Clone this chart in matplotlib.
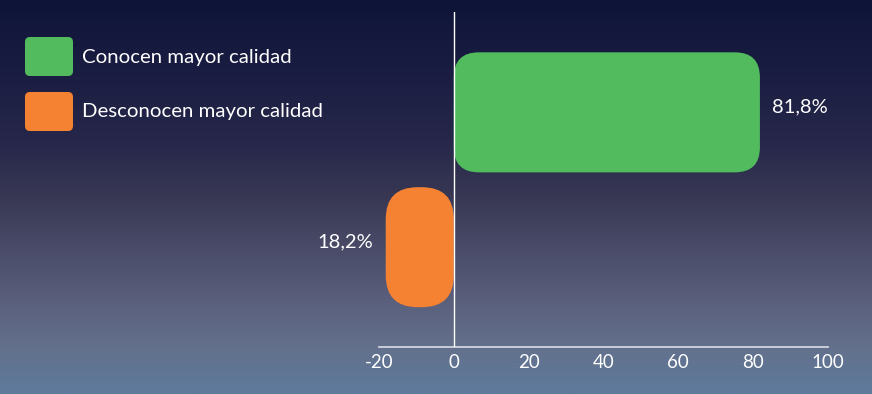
import numpy as np
import matplotlib.pyplot as plt
from matplotlib.colors import LinearSegmentedColormap
from matplotlib.patches import FancyBboxPatch

# --- Données ---
categories = ['Conocen mayor calidad', 'Desconocen mayor calidad']
values = [81.8, -18.2]
bar_colors = ['#52bb5e', '#f58233']
xticks = [-20, 0, 20, 40, 60, 80, 100]

plt.rcParams['font.family'] = ['Lato', 'DejaVu Sans']

W, H = 872, 394
fig = plt.figure(figsize=(W / 100, H / 100), dpi=100)

# --- Fond dégradé ---
bg = fig.add_axes([0, 0, 1, 1], zorder=-10)
bg_cmap = LinearSegmentedColormap.from_list('bg', [
    (0.0, '#0e1438'), (0.35, '#25264a'), (0.5, '#383854'),
    (0.75, '#595d7a'), (0.88, '#63708c'), (1.0, '#5e7b9c')])
bg.imshow(np.linspace(0, 1, 256).reshape(-1, 1), aspect='auto', cmap=bg_cmap,
          extent=[0, 1, 0, 1], origin='upper')
bg.axis('off')

# --- Axe principal ---
left, right = 379 / W, 828 / W
bottom, top = (H - 347) / H, (H - 12) / H
ax = fig.add_axes([left, bottom, right - left, top - bottom])
ax.patch.set_alpha(0)
ax.set_xlim(-20, 100)
ax.set_ylim(-0.74, 1.744)

ypos = [1, 0]
bars = ax.barh(ypos, values, height=0.89, color=bar_colors)

# barres arrondies
x_per_px = 120 / (828 - 379)
y_per_px = 2.484 / 335
aspect = y_per_px / x_per_px
radii_px = [25, 32]
for b, r in zip(bars, radii_px):
    x0, y0, w, h = b.get_x(), b.get_y(), b.get_width(), b.get_height()
    if w < 0:
        x0, w = x0 + w, -w
    b.set_visible(False)
    ax.add_patch(FancyBboxPatch((x0, y0), w, h,
                                boxstyle=f'round,pad=0,rounding_size={r * x_per_px}',
                                mutation_aspect=aspect, fc=b.get_facecolor(),
                                ec='none', zorder=2))

# étiquettes
for y, v in zip(ypos, values):
    txt = f'{abs(v):.1f}%'.replace('.', ',')
    if v >= 0:
        ax.text(v + 3.3, y + 0.04, txt, color='white', fontsize=14.5,
                va='center', ha='left')
    else:
        ax.text(v - 3.4, y + 0.04, txt, color='white', fontsize=14.5,
                va='center', ha='right')

ax.axvline(0, color='white', lw=1, zorder=3)
for s in ['top', 'right', 'left']:
    ax.spines[s].set_visible(False)
ax.spines['bottom'].set_color('#d0d4de')
ax.spines['bottom'].set_linewidth(1.3)
ax.set_yticks([])
ax.set_xticks(xticks)
ax.set_xticklabels([str(t) for t in xticks])
ax.tick_params(axis='x', length=0, pad=5, labelsize=13.5, labelcolor='white')

# --- Légende ---
for i, (lab, c) in enumerate(zip(categories, bar_colors)):
    y_top = 37 + i * 55
    fig.add_artist(FancyBboxPatch((25 / W, (H - y_top - 39) / H), 48 / W, 39 / H,
                                  boxstyle=f'round,pad=0,rounding_size={5 / W}',
                                  mutation_aspect=W / H,
                                  transform=fig.transFigure, fc=c, ec='none'))
    fig.text(82 / W, (H - y_top - 20) / H, lab, color='white', fontsize=14.7,
             va='center', ha='left')

fig.savefig('out.png', dpi=100)
